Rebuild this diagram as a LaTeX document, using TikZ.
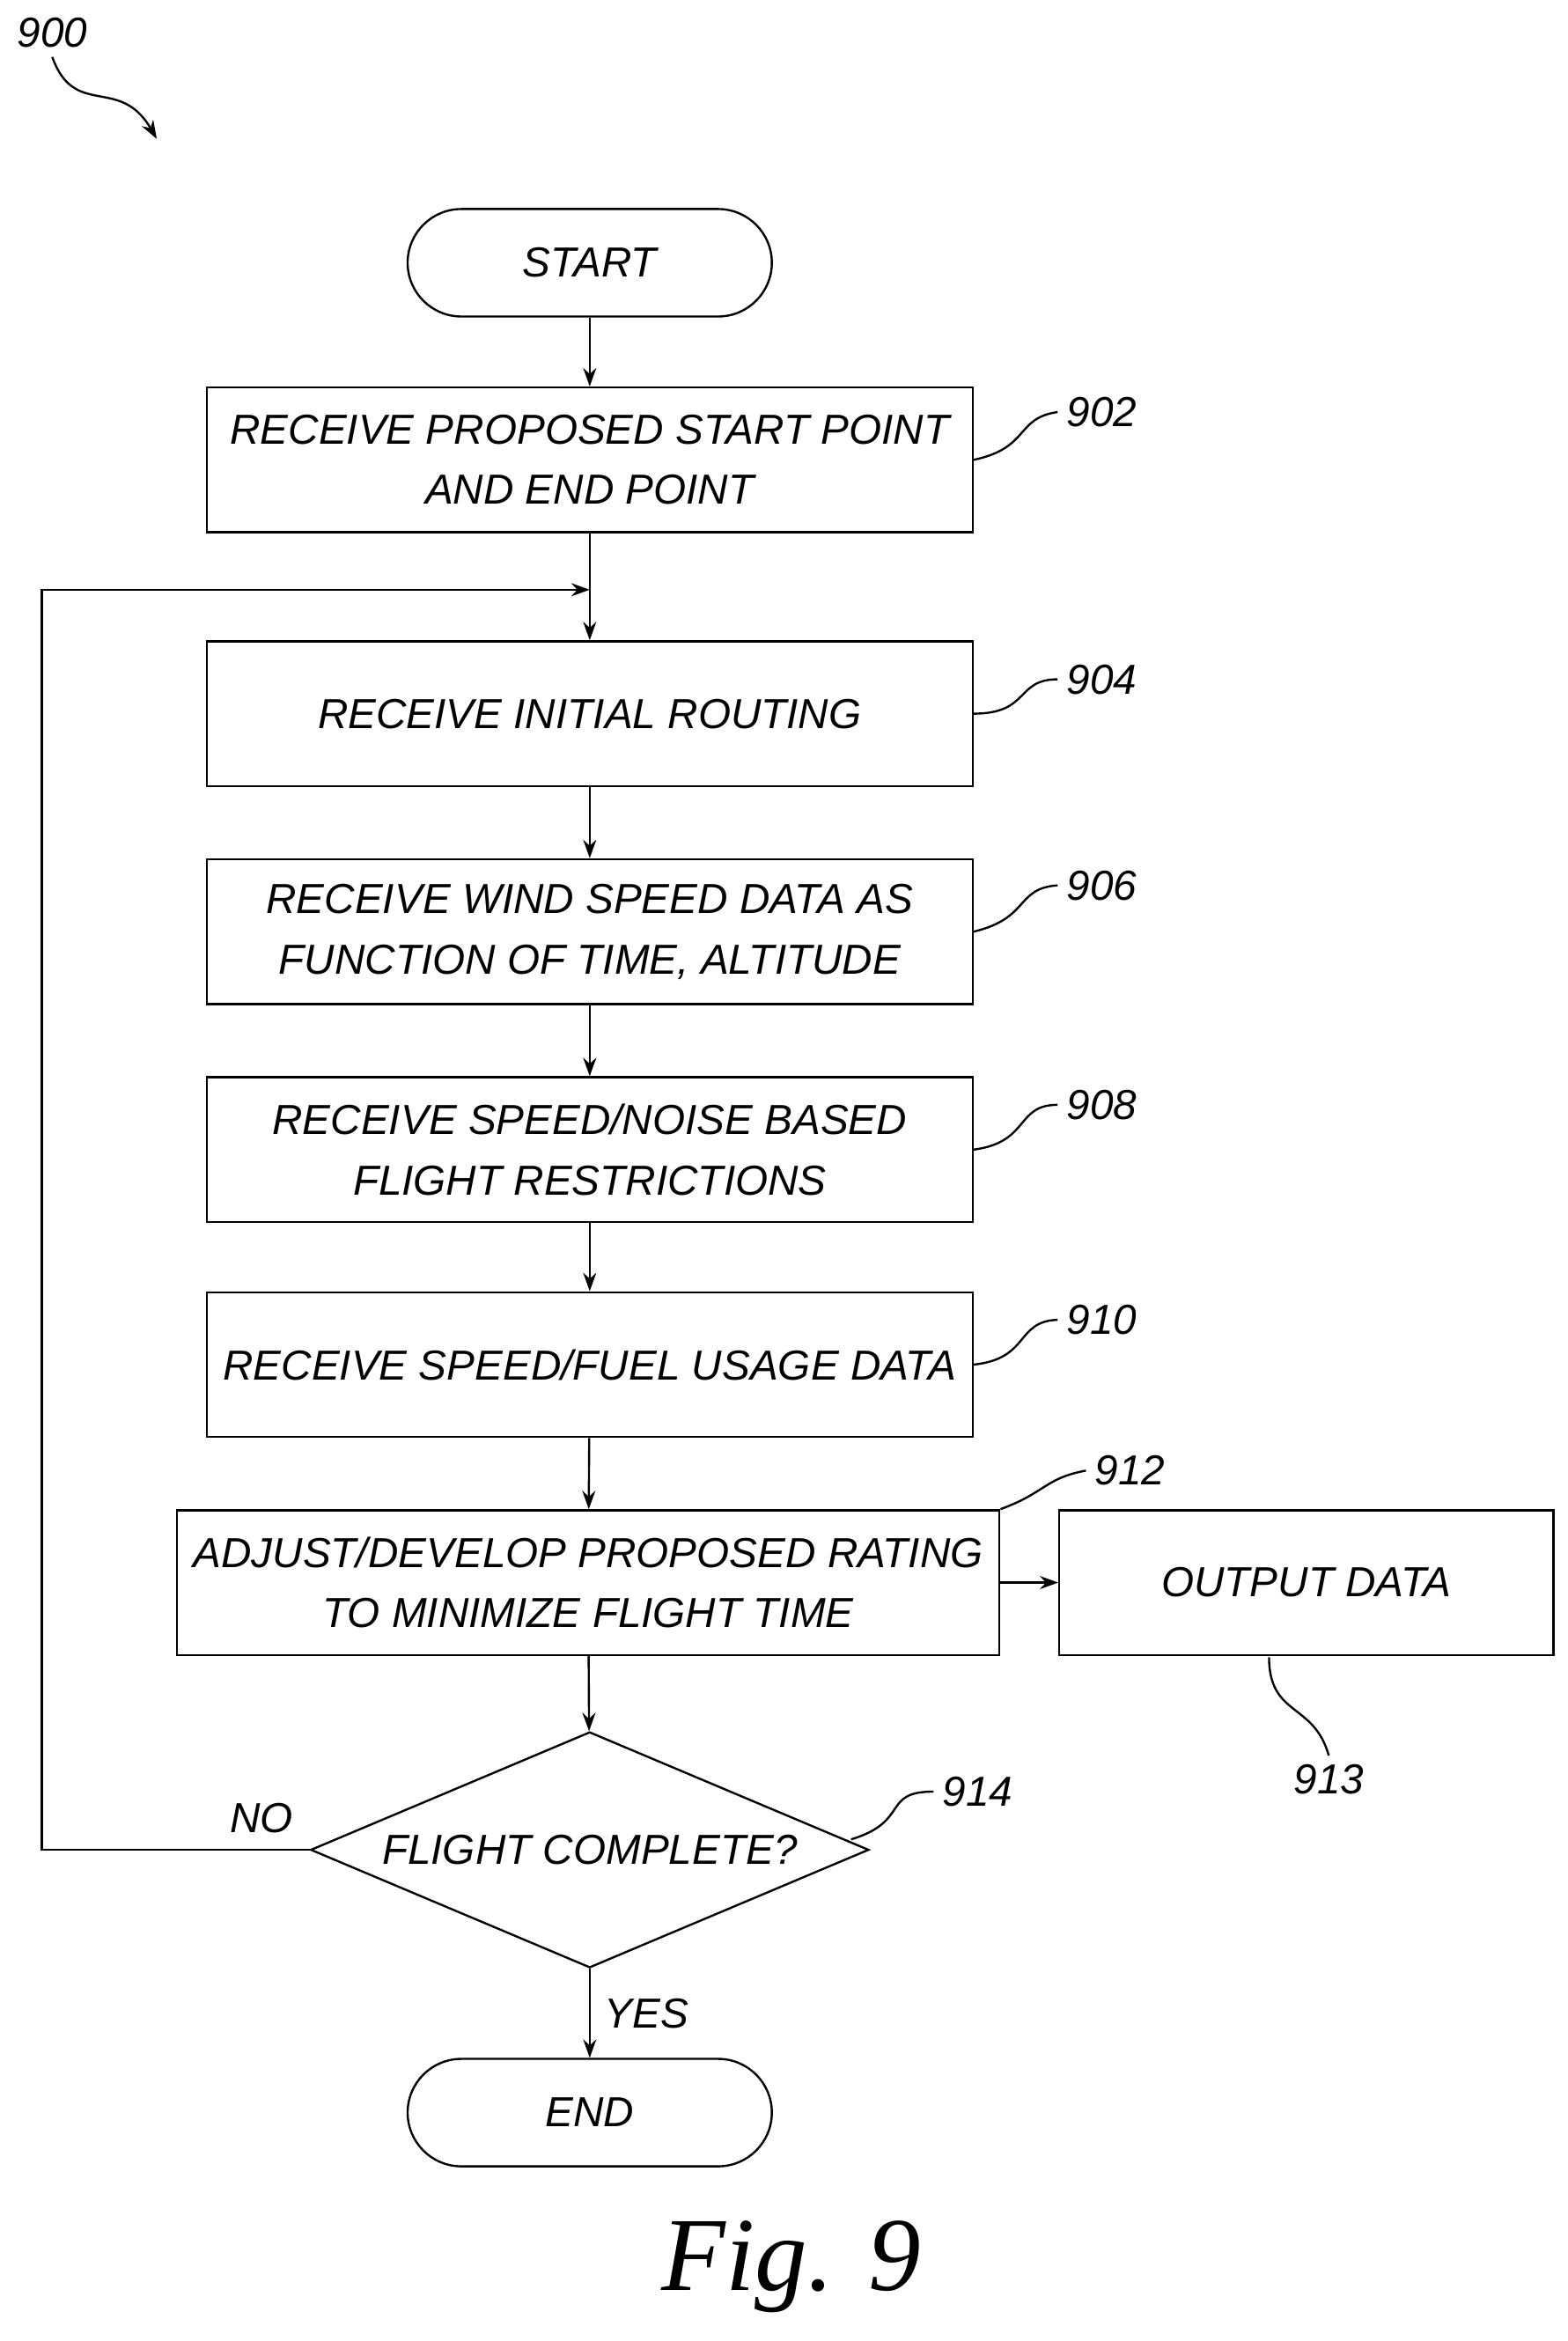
\documentclass[tikz,border=0pt]{standalone}
\usepackage{fontspec}
\setmainfont{Liberation Sans}
\usetikzlibrary{shapes.geometric,arrows.meta,positioning}

\begin{document}
\begin{tikzpicture}[x=0.02cm,y=-0.02cm,
    box/.style={draw,thick,minimum width=10.26cm,minimum height=1.94cm,align=center,font=\itshape\fontsize{16}{23}\selectfont},
    term/.style={draw,thick,rounded corners=0.72cm,minimum width=4.88cm,minimum height=1.44cm,font=\itshape\fontsize{16}{20}\selectfont},
    ref/.style={font=\itshape\fontsize{16}{20}\selectfont},
    flow/.style={thick,-{Stealth[length=7pt,width=5pt]}},
    lead/.style={thick}]
    \useasboundingbox (0,0) rectangle (1050,1568);

    \node[term] (start) at (395,176) {START};
    \node[box] (recv) at (395,308) {RECEIVE PROPOSED START POINT\\AND END POINT};
    \node[box] (route) at (395,478) {RECEIVE INITIAL ROUTING};
    \node[box] (wind) at (395,624) {RECEIVE WIND SPEED DATA AS\\FUNCTION OF TIME, ALTITUDE};
    \node[box] (restr) at (395,770) {RECEIVE SPEED/NOISE BASED\\FLIGHT RESTRICTIONS};
    \node[box] (fuel) at (395,914) {RECEIVE SPEED/FUEL USAGE DATA};
    \node[box,minimum width=11.02cm] (adjust) at (394,1060) {ADJUST/DEVELOP PROPOSED RATING\\TO MINIMIZE FLIGHT TIME};
    \node[box,minimum width=6.62cm] (out) at (875,1060) {OUTPUT DATA};
    \node[draw,thick,diamond,aspect=2.37,inner sep=0pt,minimum width=7.48cm,minimum height=3.16cm,
          font=\itshape\fontsize{16}{20}\selectfont] (done) at (395,1239) {FLIGHT COMPLETE?};
    \node[term] (end) at (395,1415) {END};

    \coordinate (join) at (395,395);
    \coordinate (loop) at (28,1239);

    \draw[flow] (start) -- (recv);
    \draw[thick] (recv) -- (join);
    \draw[flow] (join) -- (route);
    \draw[flow] (route) -- (wind);
    \draw[flow] (wind) -- (restr);
    \draw[flow] (restr) -- (fuel);
    \draw[flow] (fuel) -- (adjust);
    \draw[flow] (adjust) -- (out);
    \draw[flow] (adjust) -- (done);
    \draw[flow] (done) -- node[right,ref,xshift=2pt] {YES} (end);
    \draw[flow] (done.west) -- (loop) |- (join);
    \node[ref] (no) at (175,1218) {NO};

    % reference numerals
    \node[ref] (n900) at (35,22) {900};
    \node[ref] (n902) at (738,276) {902};
    \node[ref] (n904) at (738,455) {904};
    \node[ref] (n906) at (738,593) {906};
    \node[ref] (n908) at (738,740) {908};
    \node[ref] (n910) at (738,884) {910};
    \node[ref] (n912) at (757,985) {912};
    \node[ref] (n913) at (890,1192) {913};
    \node[ref] (n914) at (655,1200) {914};
    \coordinate (p900) at (105,93);

    \draw[lead,-{Stealth[length=7pt,width=5pt]}] (n900.south) .. controls (50,80) and (80,50) .. (p900);
    \draw[lead] (recv.east) .. controls (690,300) and (680,280) .. (n902.west);
    \draw[lead] (route.east) .. controls (690,478) and (680,455) .. (n904.west);
    \draw[lead] (wind.east) .. controls (690,615) and (680,595) .. (n906.west);
    \draw[lead] (restr.east) .. controls (690,765) and (680,740) .. (n908.west);
    \draw[lead] (fuel.east) .. controls (690,910) and (680,885) .. (n910.west);
    \draw[lead] (adjust.north east) .. controls (700,1000) and (700,990) .. (n912.west);
    \draw[lead] (850,1110) .. controls (850,1150) and (880,1140) .. (n913.north);
    \draw[lead] (570,1232) .. controls (610,1220) and (590,1200) .. (n914.west);

    \node[font=\itshape\fontsize{40}{44}\selectfont\rmfamily] (fig) at (530,1518) {\setmainfont{Liberation Serif}\itshape Fig. 9};
\end{tikzpicture}
\end{document}
